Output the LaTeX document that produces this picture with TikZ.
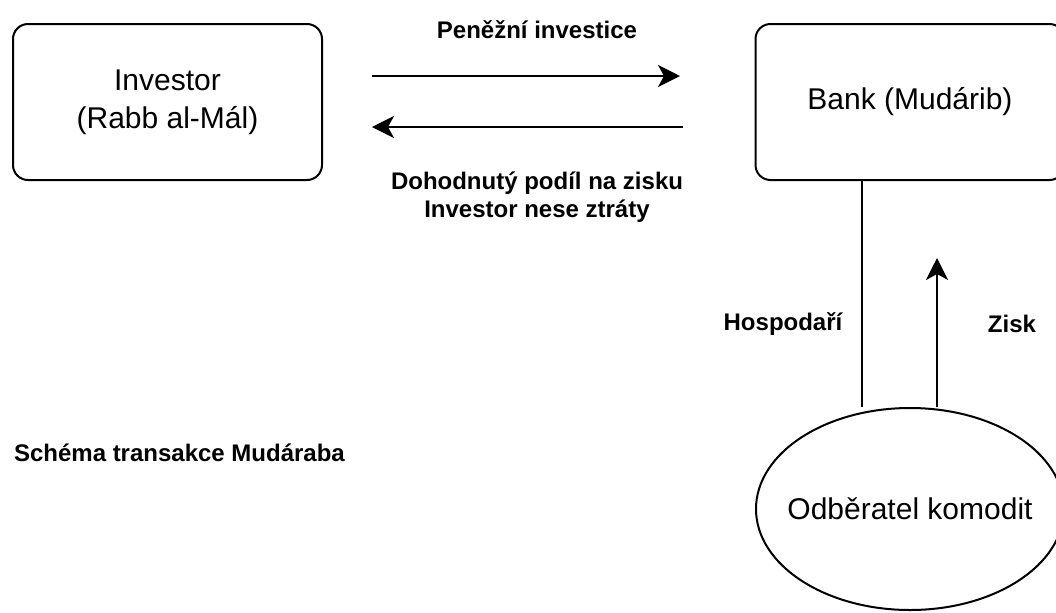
\documentclass[tikz,border=0pt]{standalone}
\usepackage{fontspec}
\setmainfont{Liberation Sans}
\usetikzlibrary{arrows.meta, shapes.geometric}

\tikzset{
  party/.style={draw, line width=1pt, rounded corners=7.5pt, minimum width=154.5pt,
    minimum height=78pt, align=center, font=\fontsize{15}{19}\selectfont},
  client/.style={draw, ellipse, line width=1pt, minimum width=154pt, minimum height=101pt,
    inner xsep=-8pt, inner ysep=0pt, font=\fontsize{15}{19}\selectfont},
  flow/.style={line width=1pt, -{Stealth[length=11pt, width=11pt, inset=3pt]}},
  link/.style={line width=1pt},
  lbl/.style={font=\bfseries\fontsize{12}{14}\selectfont, align=center}
}

\begin{document}
\begin{tikzpicture}[x=0.5pt, y=-0.5pt]
  \useasboundingbox (0,0) rectangle (1056,612);
  \clip (0,0) rectangle (1056,612);
  % Parties
  \node[party] (inv) at (167.5,102) {Investor\\(Rabb al-Mál)};
  \node[party] (bank) at (910,102) {Bank (Mudárib)};
  \node[client] (cust) at (910,509) {Odběratel komodit};
  % Free ends of the money flows
  \coordinate (inv-out) at (372,76);
  \coordinate (bank-in) at (680,76);
  \coordinate (bank-out) at (683,127);
  \coordinate (inv-in) at (372,127);
  \coordinate (hx) at (862,0);
  \coordinate (zisk-tip) at (937,258);
  % Investor <-> bank
  \draw[flow] (inv-out) -- (bank-in);
  \draw[flow] (bank-out) -- (inv-in);
  \node[lbl] (invest) at (537,30) {Peněžní investice};
  \node[lbl] (share) at (537,197) {Dohodnutý podíl na zisku\\Investor nese ztráty};
  % Bank <-> customer
  \draw[link] (bank.south -| hx) -- (cust.north -| hx);
  \draw[flow] (cust.north -| zisk-tip) -- (zisk-tip);
  \node[lbl] (hosp) at (783,324) {Hospodaří};
  \node[lbl] (zisk) at (1012,324) {Zisk};
  % Caption
  \node[lbl, anchor=west] (title) at (7,453) {Schéma transakce Mudáraba};
\end{tikzpicture}
\end{document}
